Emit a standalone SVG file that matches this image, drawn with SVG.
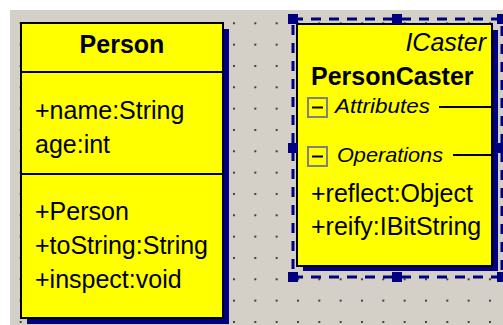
<svg xmlns="http://www.w3.org/2000/svg" width="503" height="325" viewBox="0 0 503 325">
  <defs>
    <pattern id="grid" x="233" y="22.3" width="21.333" height="21.333" patternUnits="userSpaceOnUse">
      <rect x="0" y="0" width="2" height="2" fill="#404040"/>
    </pattern>
    <style>
      .box { fill: #ffff00; stroke: #000000; stroke-width: 2; }
      .shadow { fill: #000080; }
      .div { stroke: #000000; stroke-width: 2; }
      .txt { font-family: "Liberation Sans", Arial, sans-serif; font-size: 25px; fill: #000000; }
      .bold { font-weight: bold; }
      .ital { font-style: italic; }
      .small { font-size: 21px; }
      .sel { fill: none; stroke: #000080; stroke-width: 3; stroke-dasharray: 10 8; }
      .handle { fill: #000080; }
      .mbox { fill: #ffff00; stroke: #808080; stroke-width: 2; }
      .minus { stroke: #000000; stroke-width: 2; }
    </style>
  </defs>
  <rect x="0" y="0" width="503" height="325" fill="#ffffff"/>
  <rect x="10" y="10" width="493" height="315" fill="#d4d0c8"/>
  <rect x="10" y="10" width="493" height="315" fill="url(#grid)"/>

  <g id="connectors"></g>

  <g id="person">
    <rect class="shadow" x="27" y="29" width="202" height="295"/>
    <rect class="box" x="21" y="23" width="202" height="295"/>
    <line class="div" x1="21" y1="72" x2="223" y2="72"/>
    <line class="div" x1="21" y1="174" x2="223" y2="174"/>
    <text class="txt bold" x="122" y="53" text-anchor="middle">Person</text>
    <text class="txt" x="35" y="119">+name:String</text>
    <text class="txt" x="35" y="153">age:int</text>
    <text class="txt" x="35" y="220">+Person</text>
    <text class="txt" x="35" y="254">+toString:String</text>
    <text class="txt" x="35" y="288">+inspect:void</text>
  </g>

  <g id="personcaster">
    <rect class="shadow" x="303" y="30" width="195" height="241"/>
    <rect class="box" x="297" y="24" width="195" height="242"/>
    <text class="txt ital" x="486" y="51" text-anchor="end">ICaster</text>
    <text class="txt bold" x="311" y="85">PersonCaster</text>
    <rect class="mbox" x="308" y="98" width="19" height="19"/>
    <line class="minus" x1="312" y1="107.5" x2="323" y2="107.5"/>
    <text class="txt ital small" x="335" y="113" textLength="95" lengthAdjust="spacingAndGlyphs">Attributes</text>
    <line class="div" x1="439" y1="107" x2="492" y2="107"/>
    <rect class="mbox" x="308" y="147" width="19" height="19"/>
    <line class="minus" x1="312" y1="156.5" x2="323" y2="156.5"/>
    <text class="txt ital small" x="337" y="162" textLength="106" lengthAdjust="spacingAndGlyphs">Operations</text>
    <line class="div" x1="453" y1="155" x2="492" y2="155"/>
    <text class="txt" x="311" y="202">+reflect:Object</text>
    <text class="txt" x="311" y="235">+reify:IBitString</text>
  </g>

  <g id="selection">
    <rect class="sel" x="293" y="19" width="209" height="258"/>
    <rect class="handle" x="288" y="14" width="10" height="10"/>
    <rect class="handle" x="392" y="14" width="10" height="10"/>
    <rect class="handle" x="497" y="14" width="10" height="10"/>
    <rect class="handle" x="288" y="143" width="10" height="10"/>
    <rect class="handle" x="497" y="143" width="10" height="10"/>
    <rect class="handle" x="288" y="272" width="10" height="10"/>
    <rect class="handle" x="392" y="272" width="10" height="10"/>
    <rect class="handle" x="497" y="272" width="10" height="10"/>
  </g>
</svg>
